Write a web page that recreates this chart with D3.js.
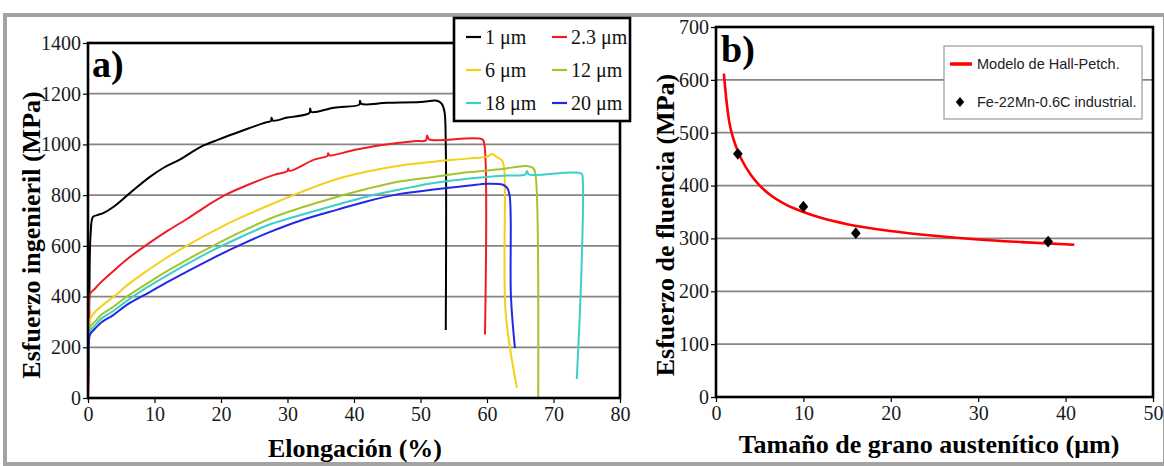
<!DOCTYPE html>
<html>
<head>
<meta charset="utf-8">
<script src="https://cdn.jsdelivr.net/npm/d3@7"></script>
<style>
  body { margin: 0; background: #fff; }
  svg { display: block; }
</style>
</head>
<body>
<div id="chart"></div>
<script>
// Panel a: tensile curves, [elongation %, stress MPa]
const curve1um = [[0,0],[0.2,400],[0.4,650],[0.75,714],[1.5,722],[2.3,729],[3.8,753],[6.3,808],[9.3,872],[11.5,910],
  [13.8,940],[15.5,968],[17.3,995],[19.5,1018],[21.4,1037],[24,1062],[26.9,1088],[27.5,1092],[27.6,1105],[27.8,1094],
  [30,1106],[33.3,1124],[33.4,1142],[33.6,1128],[37,1145],[40.8,1157],[40.9,1172],[41.1,1160],[45,1164],[50,1167],
  [52.5,1172],[53.2,1160],[53.6,1130],[53.8,1000],[53.8,268]];
const curve2um = [[0,0],[0.2,300],[0.3,410],[1,430],[2,458],[4,505],[6,550],[8.6,600],[12,660],[15,708],[18,760],
  [20.6,800],[24,840],[28,880],[30,895],[30.1,905],[30.3,896],[34,940],[36,955],[36.1,965],[36.3,957],[40,978],
  [44,997],[49,1013],[50.8,1016],[51,1035],[51.3,1020],[59.3,1020],[59.6,1000],[59.7,250]];
const curve6um = [[0,0],[0.1,250],[0.3,310],[1,338],[2,362],[4,402],[6,447],[8.8,500],[12,556],[15,603],[19,660],
  [23,712],[27.4,762],[32,812],[37,860],[42,893],[47,917],[52,932],[57,944],[60,952],[60.8,962],[61.5,950],
  [62.3,935],[62.6,900],[62.8,340],[64.5,40]];
const curve12um = [[0,0],[0.1,230],[0.3,280],[1,300],[2,328],[3.8,360],[6,403],[8.8,450],[12,502],[15,547],
  [18.8,600],[23,655],[27.6,710],[32,750],[37,790],[42,825],[46.4,852],[52,872],[57,890],[62,902],[66,915],
  [67,905],[67.3,880],[67.7,0]];
const curve18um = [[0,0],[0.1,220],[0.3,265],[1,285],[2,313],[3.8,343],[6,386],[8.8,435],[12,485],[15,530],
  [18.8,583],[23,635],[27.4,685],[32,722],[37.4,762],[42,795],[47.4,825],[52,848],[57.4,866],[60,872],[63,877],
  [65.8,882],[66,895],[66.3,882],[74.2,885],[74.4,860],[74.2,500],[73.5,75]];
const curve20um = [[0,0],[0.1,200],[0.3,250],[1,272],[2,298],[3.8,327],[6,370],[9.3,418],[12,458],[15,500],
  [18.8,552],[23,605],[27.4,655],[32,700],[37.4,742],[42,776],[46.9,805],[52,822],[57.4,838],[60,845],
  [62.3,842],[63,830],[63.4,800],[63.6,400],[64.2,197]];

const curvesA = [curve1um, curve2um, curve6um, curve12um, curve18um, curve20um];
const labelsA = ["1 μm", "2.3 μm", "6 μm", "12 μm", "18 μm", "20 μm"];
const colorsA = ["#000000", "#ee1c24", "#f5cf1a", "#a2c62a", "#3ccfc8", "#2228e6"];
const xTicksA = [0, 10, 20, 30, 40, 50, 60, 70, 80];
const yTicksA = [0, 200, 400, 600, 800, 1000, 1200, 1400];

// Panel b: Hall-Petch model and measured points
const hpGrain = [0.9, 1.2, 1.5, 2, 2.5, 3, 4, 5, 6, 8, 10, 12, 15, 20, 25, 30, 35, 41];
const hpStress = [612, 560, 522, 488, 465, 447, 420, 400, 385, 364, 350, 339, 327, 314, 305, 298, 293, 288];
const expGrain = [2.5, 10, 16, 38];
const expStress = [460, 360, 310, 294];
const xTicksB = [0, 10, 20, 30, 40, 50];
const yTicksB = [0, 100, 200, 300, 400, 500, 600, 700];

const W = 1164, H = 466;
const serif = "'Liberation Serif', 'Times New Roman', serif";
const sans = "'Liberation Sans', Arial, sans-serif";

const svg = d3.select("#chart").append("svg").attr("width", W).attr("height", H);

// outer grey border of the figure
svg.append("rect").attr("x", 5).attr("y", 15).attr("width", 1160).attr("height", 449)
  .attr("fill", "#fff").attr("stroke", "#a3a3a3").attr("stroke-width", 4);

// gridlines + ticks for one panel
function drawFrame(x, y, xTicks, yTicks) {
  const [x0, x1] = x.range();
  const [y0, y1] = y.range();
  const g = svg.append("g");

  g.selectAll("line.grid").data(yTicks.slice(1, -1)).join("line")
    .attr("x1", x0).attr("x2", x1)
    .attr("y1", d => y(d)).attr("y2", d => y(d))
    .attr("stroke", "#858585").attr("stroke-width", 1.7);

  const xAxis = g.append("g").attr("transform", `translate(0,${y0})`)
    .call(d3.axisBottom(x).tickValues(xTicks).tickSize(5).tickPadding(4).tickFormat(d3.format("d")));
  const yAxis = g.append("g").attr("transform", `translate(${x0},0)`)
    .call(d3.axisLeft(y).tickValues(yTicks).tickSize(5).tickPadding(2).tickFormat(d3.format("d")));

  [xAxis, yAxis].forEach(a => {
    a.select(".domain").remove();
    a.selectAll(".tick line").attr("stroke", "#000").attr("stroke-width", 1.2);
    a.selectAll(".tick text").attr("fill", "#1a1a1a")
      .style("font-family", serif).style("font-size", "20px");
  });
  return g;
}

function frameRect(x, y) {
  const [x0, x1] = x.range();
  const [y0, y1] = y.range();
  svg.append("rect").attr("x", x0).attr("y", y1)
    .attr("width", x1 - x0).attr("height", y0 - y1)
    .attr("fill", "none").attr("stroke", "#000").attr("stroke-width", 2.6);
}

// ---------- Panel a ----------
const xA = d3.scaleLinear().domain([0, 80]).range([88, 620]);
const yA = d3.scaleLinear().domain([0, 1400]).range([398, 43]);
drawFrame(xA, yA, xTicksA, yTicksA);

const lineA = d3.line().curve(d3.curveCatmullRom.alpha(0.5))
  .x(d => xA(d[0])).y(d => yA(d[1]));
curvesA.forEach((c, i) => {
  svg.append("path").datum(c).attr("d", lineA)
    .attr("fill", "none").attr("stroke", colorsA[i])
    .attr("stroke-width", 2).attr("stroke-linejoin", "round");
});
frameRect(xA, yA);

svg.append("text").attr("x", 92).attr("y", 77).text("a)")
  .style("font-family", serif).style("font-weight", "bold").style("font-size", "38px");

svg.append("text")
  .attr("transform", "translate(40,235) rotate(-90)")
  .attr("text-anchor", "middle").text("Esfuerzo ingenieril (MPa)")
  .style("font-family", serif).style("font-weight", "bold").style("font-size", "26px");
svg.append("text").attr("x", 355).attr("y", 457)
  .attr("text-anchor", "middle").text("Elongación (%)")
  .style("font-family", serif).style("font-weight", "bold").style("font-size", "26px");

// legend a
const legA = svg.append("g");
legA.append("rect").attr("x", 454).attr("y", 18).attr("width", 176).attr("height", 103)
  .attr("fill", "#fff").attr("stroke", "#000").attr("stroke-width", 2.6);
const legCols = [466, 552];
const legRows = [37, 70, 103];
labelsA.forEach((lab, i) => {
  const lx = legCols[i % 2], ly = legRows[Math.floor(i / 2)];
  legA.append("line").attr("x1", lx).attr("x2", lx + 15).attr("y1", ly).attr("y2", ly)
    .attr("stroke", colorsA[i]).attr("stroke-width", 2.2);
  legA.append("text").attr("x", lx + 19).attr("y", ly).attr("dy", "0.33em").text(lab)
    .style("font-family", serif).style("font-size", "20px").attr("fill", "#111");
});

// ---------- Panel b ----------
const xB = d3.scaleLinear().domain([0, 50]).range([716, 1153]);
const yB = d3.scaleLinear().domain([0, 700]).range([397, 27]);
drawFrame(xB, yB, xTicksB, yTicksB);

const hpData = hpGrain.map((g, i) => [g, hpStress[i]]);
svg.append("path").datum(hpData)
  .attr("d", d3.line().curve(d3.curveMonotoneX).x(d => xB(d[0])).y(d => yB(d[1])))
  .attr("fill", "none").attr("stroke", "#ff0000").attr("stroke-width", 2.6);

// slightly wide diamond marker
const wideDiamond = {
  draw(ctx, size) {
    const h = Math.sqrt(size) * 0.66, w = h * 0.82;
    ctx.moveTo(0, -h); ctx.lineTo(w, 0); ctx.lineTo(0, h); ctx.lineTo(-w, 0); ctx.closePath();
  }
};
const diamond = d3.symbol().type(wideDiamond).size(80);
svg.selectAll("path.exp").data(expGrain).join("path")
  .attr("class", "exp")
  .attr("transform", (d, i) => `translate(${xB(d)},${yB(expStress[i])})`)
  .attr("d", diamond).attr("fill", "#000");
frameRect(xB, yB);

svg.append("text").attr("x", 721).attr("y", 62).text("b)")
  .style("font-family", serif).style("font-weight", "bold").style("font-size", "38px");

svg.append("text")
  .attr("transform", "translate(674,225) rotate(-90)")
  .attr("text-anchor", "middle").text("Esfuerzo de fluencia (MPa)")
  .style("font-family", serif).style("font-weight", "bold").style("font-size", "26px");
svg.append("text").attr("x", 929).attr("y", 453)
  .attr("text-anchor", "middle").text("Tamaño de grano austenítico (μm)")
  .style("font-family", serif).style("font-weight", "bold").style("font-size", "26px");

// legend b
const legB = svg.append("g");
legB.append("rect").attr("x", 944).attr("y", 46).attr("width", 198).attr("height", 73)
  .attr("fill", "#fff").attr("stroke", "#9a9a9a").attr("stroke-width", 1.2);
legB.append("line").attr("x1", 950).attr("x2", 972).attr("y1", 64).attr("y2", 64)
  .attr("stroke", "#ff0000").attr("stroke-width", 3.5);
legB.append("text").attr("x", 977).attr("y", 64).attr("dy", "0.35em").text("Modelo de Hall-Petch.")
  .style("font-family", sans).style("font-size", "14.5px").attr("fill", "#222");
legB.append("path").attr("transform", "translate(960,102)")
  .attr("d", d3.symbol().type(wideDiamond).size(60)).attr("fill", "#000");
legB.append("text").attr("x", 977).attr("y", 102).attr("dy", "0.35em").text("Fe-22Mn-0.6C industrial.")
  .style("font-family", sans).style("font-size", "14.5px").attr("fill", "#222");
</script>
</body>
</html>
